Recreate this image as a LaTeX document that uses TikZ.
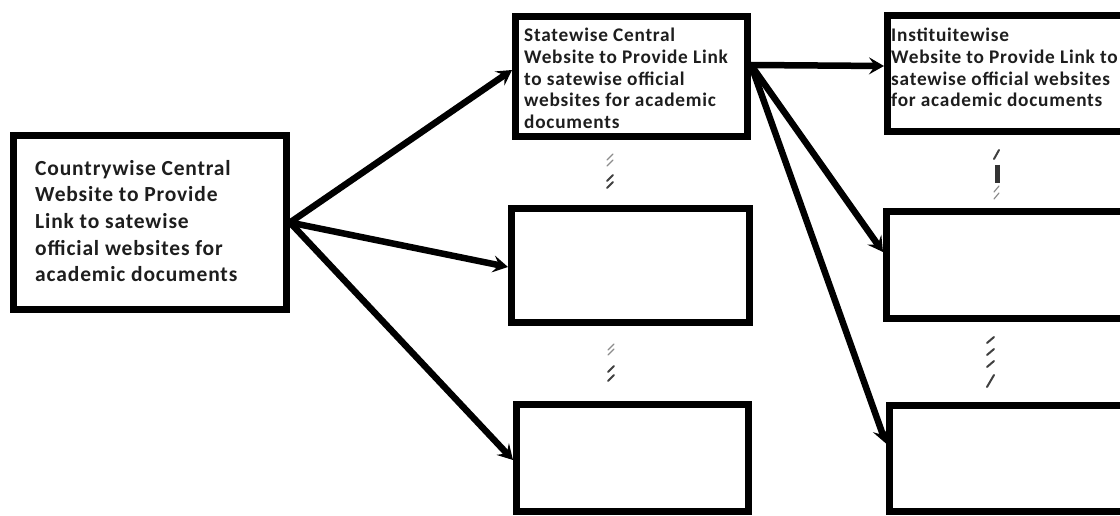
\documentclass[tikz,border=0pt]{standalone}
\usepackage{fontspec}
\setmainfont{Carlito}[LetterSpace=4.0]
\usetikzlibrary{arrows.meta}
\definecolor{inkc}{HTML}{1E1E1E}
\begin{document}
\begin{tikzpicture}[x=1pt,y=-1pt,
  box/.style={draw=black, line width=7pt, inner sep=0pt, outer sep=3.5pt, fill=white},
  bigtxt/.style={anchor=base west, align=left, inner sep=0pt, text=inkc,
     font=\fontsize{21.5}{26.7}\selectfont\bfseries},
  smalltxt/.style={anchor=base west, align=left, inner sep=0pt, text=inkc,
     font=\fontsize{19.3}{21.6}\selectfont\bfseries},
  link/.style={draw=black, line width=6.5pt,
     -{Stealth[length=15pt,width=17pt,inset=6pt]}},
  hatchstroke/.style={line width=2pt, draw=black!75, line cap=round},
  hatchlight/.style={line width=1.2pt, draw=black!45, line cap=round}]
\useasboundingbox (0,0) rectangle (1120,516);
\clip (0,0) rectangle (1120,516);
\fill[white] (0,0) rectangle (1120,516);

% boxes
\node[box, minimum width=273pt, minimum height=174pt] (A) at (150,222.5) {};
\node[box, minimum width=232pt, minimum height=120pt] (B1) at (631.5,76.5) {};
\node[box, minimum width=238pt, minimum height=114pt] (B2) at (630.5,265.5) {};
\node[box, minimum width=232pt, minimum height=107pt] (B3) at (632.5,458) {};
\node[box, minimum width=244pt, minimum height=116pt] (C1) at (1009.5,73.5) {};
\node[box, minimum width=245pt, minimum height=107pt] (C2) at (1009,265) {};
\node[box, minimum width=242pt, minimum height=106pt] (C3) at (1010.5,458.5) {};

% texts (anchor at baseline of the last line)
\node[bigtxt] (tA) at (35,281.8) {Countrywise Central\\Website to Provide\\Link to satewise\\official websites for\\academic documents};
\node[smalltxt] (tB) at (524,128.4) {Statewise Central\\Website to Provide Link\\to satewise official\\websites for academic\\documents};
\node[smalltxt] (tC) at (891,106.8) {Instituitewise\\Website to Provide Link to\\satewise official websites\\for academic documents};

% connectors
\draw[link] (A.east) -- ([yshift=6.5pt]B1.west);
\draw[link] (A.east) -- ([yshift=-1.5pt]B2.west);
\draw[link] (A.east) -- ([yshift=-2pt]B3.west);
\draw[link] ([yshift=11.5pt]B1.east) -- ([yshift=7.5pt]C1.west);
\draw[link] ([yshift=11.5pt]B1.east) -- ([yshift=13pt]C2.west);
\draw[link] ([yshift=11.5pt]B1.east) -- ([yshift=15pt]C3.west);

% vertical ellipsis strokes, column B
\draw[hatchlight] (607,160) -- (613,154);
\draw[hatchlight] (607,166) -- (613,160);
\draw[hatchstroke] (607,181) -- (613,175);
\draw[hatchstroke] (607,188) -- (613,182);
\draw[hatchlight] (608,350) -- (614,344);
\draw[hatchlight] (608,355) -- (614,349);
\draw[hatchstroke] (608,372) -- (614,366);
\draw[hatchstroke] (608,381) -- (614,375);
% column C
\draw[hatchstroke] (994,159) -- (999,150);
\draw[line width=5pt, draw=black!80] (997,165) -- (997,183);
\draw[hatchlight] (994,192) -- (999,186);
\draw[hatchlight] (994,199) -- (999,193);
\draw[hatchstroke] (987,343) -- (994,337);
\draw[hatchstroke] (987,355) -- (994,349);
\draw[hatchstroke] (987,367) -- (994,361);
\draw[hatchstroke] (987,387) -- (994,375);
\end{tikzpicture}
\end{document}
